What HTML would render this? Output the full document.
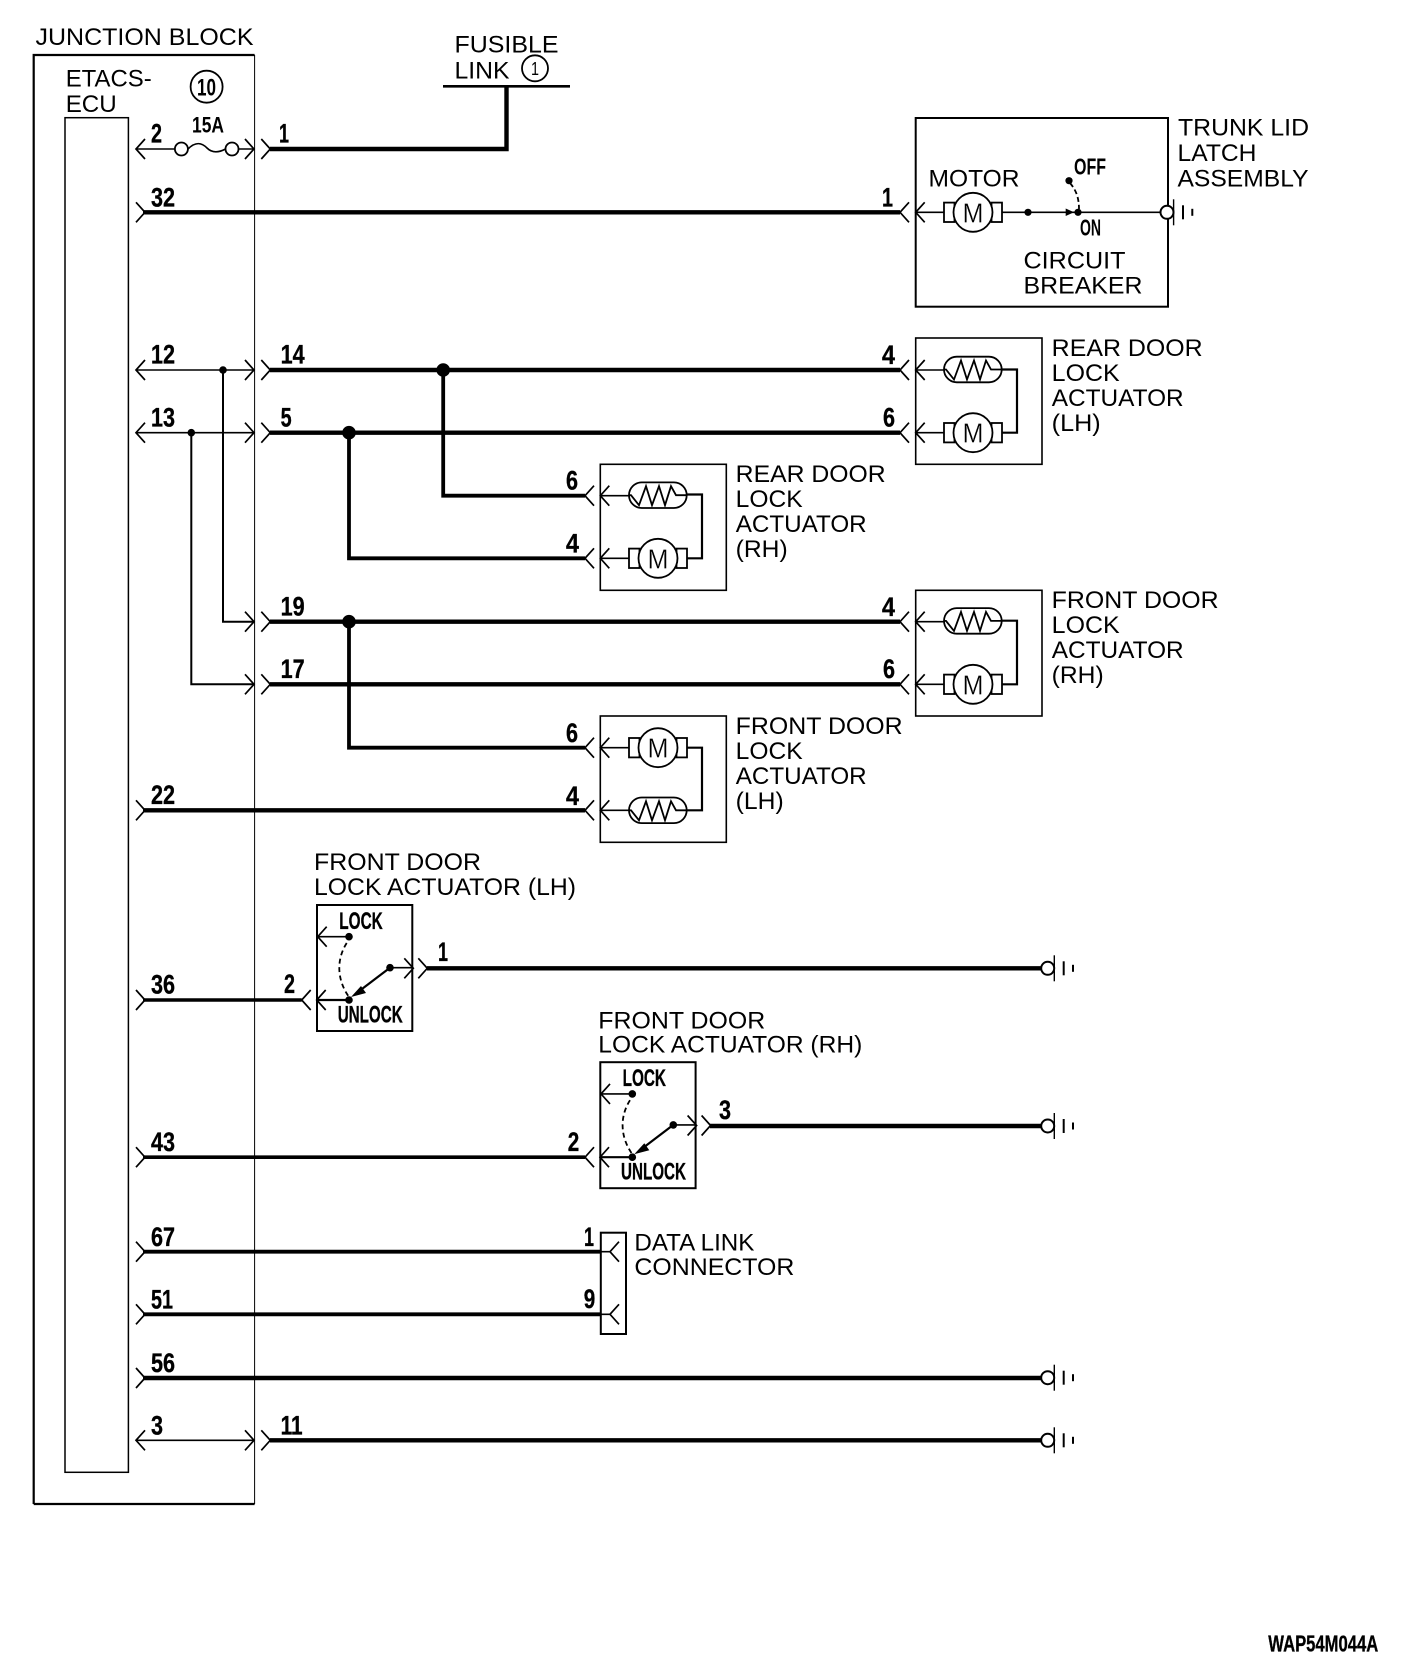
<!DOCTYPE html>
<html><head><meta charset="utf-8"><style>
html,body{margin:0;padding:0;background:#fff}
svg{display:block}
text{fill:#000;font-family:"Liberation Sans",sans-serif}
.t{font-size:24.5px}
.n{font-size:27px;font-weight:bold;stroke:#000;stroke-width:.35}
.b{font-size:24px;font-weight:bold;stroke:#000;stroke-width:.35}
.w{fill:none;stroke:#000;stroke-width:4.4}
.h{fill:none;stroke:#000;stroke-width:1.6}
.m{fill:none;stroke:#000;stroke-width:2.2}
</style></head><body>
<svg width="1408" height="1666" viewBox="0 0 1408 1666" xmlns="http://www.w3.org/2000/svg">
<defs>
<path id="al" d="M9,-10 L0,0 L9,10" fill="none" stroke="#000" stroke-width="1.7"/>
<path id="ar" d="M-9,-10 L0,0 L-9,10" fill="none" stroke="#000" stroke-width="1.7"/>
<g id="gnd"><circle r="6.5" fill="#fff" stroke="#000" stroke-width="2"/>
<path d="M6.6,-13V13" stroke="#000" stroke-width="1.4"/><path d="M16,-7V7" stroke="#000" stroke-width="2"/><path d="M25.3,-3.5V3.5" stroke="#000" stroke-width="2"/></g>
<g id="mot"><rect x="-29" y="-9.7" width="10.5" height="19.4" fill="#fff" stroke="#000" stroke-width="1.8"/><rect x="18.5" y="-9.7" width="10.5" height="19.4" fill="#fff" stroke="#000" stroke-width="1.8"/><circle r="19.5" fill="#fff" stroke="#000" stroke-width="1.8"/>
<text x="-10.5" y="10" font-size="28" textLength="21" lengthAdjust="spacingAndGlyphs" stroke="#fff" stroke-width=".3">M</text></g>
<g id="hea"><rect x="0" y="-12.8" width="57.7" height="25.6" rx="12.8" fill="#fff" stroke="#000" stroke-width="1.8"/>
<path d="M0,0H2L10,10L17,-9L23,10L30,-9L36,10L42,-9L47,0H57.7" fill="none" stroke="#000" stroke-width="1.8"/></g>
</defs>
<rect width="1408" height="1666" fill="#fff"/>

<!-- junction block -->
<path d="M33.7,1504V55H254.6" class="m"/><path d="M33.7,1504H254.6" class="m"/>
<path d="M254.6,55V1504" fill="none" stroke="#000" stroke-width="1"/>
<rect x="65" y="117.7" width="63.4" height="1354.6" fill="none" stroke="#000" stroke-width="1.5"/>
<text class="t" x="35.5" y="45" textLength="218" lengthAdjust="spacingAndGlyphs">JUNCTION BLOCK</text>
<text class="t" x="65.7" y="86.7" textLength="86" lengthAdjust="spacingAndGlyphs">ETACS-</text>
<text class="t" x="65.7" y="112" textLength="51" lengthAdjust="spacingAndGlyphs">ECU</text>
<circle cx="206.6" cy="86.7" r="16" fill="none" stroke="#000" stroke-width="1.8"/>
<text x="197" y="95.5" style="font-size:24px;font-weight:bold" textLength="19" lengthAdjust="spacingAndGlyphs">10</text>

<!-- fusible link -->
<text class="t" x="454.5" y="52.3" textLength="104" lengthAdjust="spacingAndGlyphs">FUSIBLE</text>
<text class="t" x="454.5" y="78.3" textLength="55" lengthAdjust="spacingAndGlyphs">LINK</text>
<circle cx="535" cy="68.3" r="13" fill="none" stroke="#000" stroke-width="1.8"/>
<text x="531" y="75" style="font-size:18px" textLength="8" lengthAdjust="spacingAndGlyphs">1</text>
<path d="M443,86.3H570" stroke="#000" stroke-width="2.6"/>
<path d="M506.5,86V149H270" class="w"/>

<!-- row 2/1 -->
<path d="M136,149H174.9M188,149C196,141 202,143 207,148C212,153 218,153 225.5,149M238.5,149H254" class="h"/>
<circle cx="181.4" cy="149" r="6.5" fill="#fff" stroke="#000" stroke-width="1.8"/>
<circle cx="232" cy="149" r="6.5" fill="#fff" stroke="#000" stroke-width="1.8"/>
<use href="#al" x="136" y="149"/><use href="#ar" x="254" y="149"/><use href="#ar" x="270.3" y="149"/>
<text class="n" x="151" y="142.7" textLength="11" lengthAdjust="spacingAndGlyphs">2</text>
<text style="font-size:22px;font-weight:bold" x="192" y="132.7" textLength="32" lengthAdjust="spacingAndGlyphs">15A</text>
<text class="n" x="279" y="142.7" textLength="10" lengthAdjust="spacingAndGlyphs">1</text>

<!-- row 32/1 trunk -->
<path d="M143,212.3H900" class="w"/><use href="#ar" x="145" y="212.3"/><use href="#al" x="900" y="212.3"/><use href="#al" x="915.7" y="212.3"/>
<text class="n" x="151" y="206.7" textLength="24" lengthAdjust="spacingAndGlyphs">32</text>
<text class="n" x="882" y="206.7" textLength="11" lengthAdjust="spacingAndGlyphs">1</text>
<rect x="915.7" y="118" width="252.3" height="188.7" fill="none" stroke="#000" stroke-width="2"/>
<path d="M915.7,212.3H1162" class="h"/>
<use href="#mot" x="973" y="212.3"/>
<circle cx="1028" cy="212.3" r="3.6"/>
<circle cx="1078" cy="212.3" r="3.6"/><path d="M1065.7,208.5V216L1074,212.3Z"/>
<circle cx="1069" cy="180.7" r="3.6"/>
<path d="M1070,183C1075,189 1079,196 1079,209" fill="none" stroke="#000" stroke-width="1.8" stroke-dasharray="5 3"/>
<use href="#gnd" x="1167" y="212.3"/>
<text class="t" x="928.5" y="186.7" textLength="91" lengthAdjust="spacingAndGlyphs">MOTOR</text>
<text style="font-size:23px;font-weight:bold" x="1074" y="174.3" textLength="32" lengthAdjust="spacingAndGlyphs">OFF</text>
<text style="font-size:23px;font-weight:bold" x="1080" y="235.7" textLength="21" lengthAdjust="spacingAndGlyphs">ON</text>
<text class="t" x="1023.5" y="268.3" textLength="102" lengthAdjust="spacingAndGlyphs">CIRCUIT</text>
<text class="t" x="1023.5" y="293.3" textLength="119" lengthAdjust="spacingAndGlyphs">BREAKER</text>
<text class="t" x="1178" y="135.7" textLength="131" lengthAdjust="spacingAndGlyphs">TRUNK LID</text>
<text class="t" x="1177.5" y="161" textLength="79" lengthAdjust="spacingAndGlyphs">LATCH</text>
<text class="t" x="1177.5" y="186.7" textLength="131" lengthAdjust="spacingAndGlyphs">ASSEMBLY</text>

<!-- inside block door rows -->
<path d="M136,370H254M136,432.7H254" class="h"/>
<use href="#al" x="136" y="370"/><use href="#ar" x="254" y="370"/><use href="#ar" x="270.3" y="370"/>
<use href="#al" x="136" y="432.7"/><use href="#ar" x="254" y="432.7"/><use href="#ar" x="270.3" y="432.7"/>
<circle cx="223" cy="370" r="3.8"/><circle cx="191.3" cy="432.7" r="3.8"/>
<path d="M223,370V621.7H254" class="h" style="stroke-width:2"/>
<path d="M191.3,432.7V684.3H254" class="h" style="stroke-width:2"/>
<use href="#ar" x="254" y="621.7"/><use href="#ar" x="270.3" y="621.7"/>
<use href="#ar" x="254" y="684.3"/><use href="#ar" x="270.3" y="684.3"/>
<text class="n" x="151" y="363.5" textLength="24" lengthAdjust="spacingAndGlyphs">12</text>
<text class="n" x="151" y="426.7" textLength="24" lengthAdjust="spacingAndGlyphs">13</text>
<text class="n" x="280.6" y="363.5" textLength="24" lengthAdjust="spacingAndGlyphs">14</text>
<text class="n" x="280.6" y="426.7" textLength="11" lengthAdjust="spacingAndGlyphs">5</text>
<text class="n" x="280.6" y="615.5" textLength="24" lengthAdjust="spacingAndGlyphs">19</text>
<text class="n" x="280.6" y="678" textLength="24" lengthAdjust="spacingAndGlyphs">17</text>

<!-- main thick wires -->
<path d="M270,370H900M270,432.7H900M270,621.7H900M270,684.3H900" class="w"/>
<path d="M443.2,370V495.7H585M349,432.7V558.3H585M349,621.7V747.7H585" class="w" style="stroke-width:3.8"/>
<circle cx="443.2" cy="370" r="6.8"/><circle cx="349" cy="432.7" r="6.8"/><circle cx="349" cy="621.7" r="6.8"/>
<path d="M143,810.3H585" class="w"/><use href="#ar" x="145" y="810.3"/>
<text class="n" x="151" y="804" textLength="24" lengthAdjust="spacingAndGlyphs">22</text>

<!-- rear door LH -->
<rect x="915.7" y="338" width="126.3" height="126.3" fill="none" stroke="#000" stroke-width="1.6"/>
<use href="#al" x="900" y="370"/><use href="#al" x="915.7" y="370"/><use href="#al" x="900" y="432.7"/><use href="#al" x="915.7" y="432.7"/>
<path d="M915.7,370H944M915.7,432.7H944" class="h"/>
<path d="M1001.7,369.5H1017V432.7H1002" class="m"/>
<use href="#hea" x="944" y="369.5"/><use href="#mot" x="973" y="432.7"/>
<text class="n" x="882" y="364" textLength="13" lengthAdjust="spacingAndGlyphs">4</text>
<text class="n" x="883" y="426.5" textLength="12" lengthAdjust="spacingAndGlyphs">6</text>
<text class="t" x="1051.7" y="356" textLength="151" lengthAdjust="spacingAndGlyphs">REAR DOOR</text>
<text class="t" x="1051.7" y="381" textLength="68" lengthAdjust="spacingAndGlyphs">LOCK</text>
<text class="t" x="1051.7" y="406" textLength="132" lengthAdjust="spacingAndGlyphs">ACTUATOR</text>
<text class="t" x="1051.7" y="431" textLength="49" lengthAdjust="spacingAndGlyphs">(LH)</text>

<!-- rear door RH -->
<rect x="600.3" y="464.3" width="126" height="126" fill="none" stroke="#000" stroke-width="1.6"/>
<use href="#al" x="585" y="495.7"/><use href="#al" x="600.3" y="495.7"/><use href="#al" x="585" y="558.3"/><use href="#al" x="600.3" y="558.3"/>
<path d="M600.3,495.7H629M600.3,558.3H629" class="h"/>
<path d="M686.7,494.5H702V558.3H687" class="m"/>
<use href="#hea" x="629" y="495.2"/><use href="#mot" x="658" y="558.3"/>
<text class="n" x="566" y="489.5" textLength="12" lengthAdjust="spacingAndGlyphs">6</text>
<text class="n" x="566" y="552.5" textLength="13" lengthAdjust="spacingAndGlyphs">4</text>
<text class="t" x="735.7" y="482" textLength="150" lengthAdjust="spacingAndGlyphs">REAR DOOR</text>
<text class="t" x="735.7" y="507" textLength="67" lengthAdjust="spacingAndGlyphs">LOCK</text>
<text class="t" x="735.7" y="532" textLength="131" lengthAdjust="spacingAndGlyphs">ACTUATOR</text>
<text class="t" x="735.7" y="557" textLength="52" lengthAdjust="spacingAndGlyphs">(RH)</text>

<!-- front door RH -->
<rect x="915.7" y="590.3" width="126.3" height="125.7" fill="none" stroke="#000" stroke-width="1.6"/>
<use href="#al" x="900" y="621.7"/><use href="#al" x="915.7" y="621.7"/><use href="#al" x="900" y="684.3"/><use href="#al" x="915.7" y="684.3"/>
<path d="M915.7,621.7H944M915.7,684.3H944" class="h"/>
<path d="M1001.7,620.7H1017V684.3H1002" class="m"/>
<use href="#hea" x="944" y="620.9"/><use href="#mot" x="973" y="684.3"/>
<text class="n" x="882" y="616" textLength="13" lengthAdjust="spacingAndGlyphs">4</text>
<text class="n" x="883" y="678" textLength="12" lengthAdjust="spacingAndGlyphs">6</text>
<text class="t" x="1051.7" y="608" textLength="167" lengthAdjust="spacingAndGlyphs">FRONT DOOR</text>
<text class="t" x="1051.7" y="633" textLength="68" lengthAdjust="spacingAndGlyphs">LOCK</text>
<text class="t" x="1051.7" y="658" textLength="132" lengthAdjust="spacingAndGlyphs">ACTUATOR</text>
<text class="t" x="1051.7" y="683" textLength="52" lengthAdjust="spacingAndGlyphs">(RH)</text>

<!-- front door LH -->
<rect x="600.3" y="716" width="126" height="126.3" fill="none" stroke="#000" stroke-width="1.6"/>
<use href="#al" x="585" y="747.7"/><use href="#al" x="600.3" y="747.7"/><use href="#al" x="585" y="810.3"/><use href="#al" x="600.3" y="810.3"/>
<path d="M600.3,747.7H629M600.3,810.3H629" class="h"/>
<path d="M686.7,747.7H702V810.3H687" class="m"/>
<use href="#mot" x="658" y="747.7"/><use href="#hea" x="629" y="810.3"/>
<text class="n" x="566" y="742" textLength="12" lengthAdjust="spacingAndGlyphs">6</text>
<text class="n" x="566" y="805" textLength="13" lengthAdjust="spacingAndGlyphs">4</text>
<text class="t" x="735.7" y="734" textLength="167" lengthAdjust="spacingAndGlyphs">FRONT DOOR</text>
<text class="t" x="735.7" y="759" textLength="67" lengthAdjust="spacingAndGlyphs">LOCK</text>
<text class="t" x="735.7" y="784" textLength="131" lengthAdjust="spacingAndGlyphs">ACTUATOR</text>
<text class="t" x="735.7" y="809" textLength="48" lengthAdjust="spacingAndGlyphs">(LH)</text>

<!-- switch LH -->
<text class="t" x="314" y="870" textLength="167" lengthAdjust="spacingAndGlyphs">FRONT DOOR</text>
<text class="t" x="314" y="895" textLength="262" lengthAdjust="spacingAndGlyphs">LOCK ACTUATOR (LH)</text>
<g id="sw">
<rect x="317" y="905" width="95.3" height="126" fill="none" stroke="#000" stroke-width="2"/>
<text class="b" x="339.3" y="929" textLength="43.4" lengthAdjust="spacingAndGlyphs">LOCK</text>
<text class="b" x="337.7" y="1022.3" textLength="65" lengthAdjust="spacingAndGlyphs">UNLOCK</text>
<circle cx="349" cy="936.7" r="3.8"/><path d="M317.7,936.7H349" class="h"/><use href="#al" x="317.7" y="936.7"/>
<path d="M346.7,943C336,960 337,980 349,997" fill="none" stroke="#000" stroke-width="1.8" stroke-dasharray="5 3.5"/>
<circle cx="390" cy="967.7" r="3.8"/><path d="M390,967.7H413" class="h"/><use href="#ar" x="413.3" y="968.3"/><use href="#ar" x="427.3" y="968.3"/>
<path d="M390,967.7L358,992" class="m"/><path d="M351,997L361,986L366,993Z"/>
<circle cx="349" cy="1000" r="3.8"/><path d="M349,1000H317" class="m"/><use href="#al" x="316.7" y="1000"/><use href="#al" x="301.7" y="1000"/>
</g>
<path d="M427,968.3H1041" class="w"/><use href="#gnd" x="1047.7" y="968.3"/>
<path d="M143,1000H301.7" class="w" style="stroke-width:3.6"/><use href="#ar" x="145" y="1000"/>
<text class="n" x="151" y="993.5" textLength="24" lengthAdjust="spacingAndGlyphs">36</text>
<text class="n" x="284" y="993" textLength="11" lengthAdjust="spacingAndGlyphs">2</text>
<text class="n" x="438" y="961" textLength="10" lengthAdjust="spacingAndGlyphs">1</text>

<!-- switch RH -->
<text class="t" x="598.3" y="1028.3" textLength="167" lengthAdjust="spacingAndGlyphs">FRONT DOOR</text>
<text class="t" x="598.3" y="1052.7" textLength="264" lengthAdjust="spacingAndGlyphs">LOCK ACTUATOR (RH)</text>
<use href="#sw" x="283.3" y="157.2"/>
<path d="M710,1126H1041" class="w"/><use href="#gnd" x="1047.7" y="1126"/>
<path d="M143,1157.2H585" class="w" style="stroke-width:3.6"/><use href="#ar" x="145" y="1157.2"/>
<text class="n" x="151" y="1151" textLength="24" lengthAdjust="spacingAndGlyphs">43</text>
<text class="n" x="567.7" y="1151" textLength="11.5" lengthAdjust="spacingAndGlyphs">2</text>
<text class="n" x="719" y="1119" textLength="12" lengthAdjust="spacingAndGlyphs">3</text>

<!-- data link -->
<rect x="600.8" y="1232.7" width="25.2" height="101.3" fill="none" stroke="#000" stroke-width="2"/>
<path d="M143,1251.7H601M143,1314.3H601" class="w" style="stroke-width:3.8"/>
<path d="M601,1251.7H610M601,1314.3H610" class="h"/>
<use href="#al" x="610" y="1251.7"/><use href="#al" x="610" y="1314.3"/>
<use href="#ar" x="145" y="1251.7"/><use href="#ar" x="145" y="1314.3"/>
<text class="n" x="151" y="1246" textLength="24" lengthAdjust="spacingAndGlyphs">67</text>
<text class="n" x="151" y="1308.5" textLength="22" lengthAdjust="spacingAndGlyphs">51</text>
<text class="n" x="584" y="1246" textLength="10" lengthAdjust="spacingAndGlyphs">1</text>
<text class="n" x="583.7" y="1308" textLength="11.5" lengthAdjust="spacingAndGlyphs">9</text>
<text class="t" x="634.4" y="1250.7" textLength="120" lengthAdjust="spacingAndGlyphs">DATA LINK</text>
<text class="t" x="634.4" y="1275" textLength="160" lengthAdjust="spacingAndGlyphs">CONNECTOR</text>

<!-- 56, 3/11 -->
<path d="M143,1378H1041" class="w"/><use href="#ar" x="145" y="1378"/><use href="#gnd" x="1047.7" y="1377.7"/>
<text class="n" x="151" y="1372" textLength="24" lengthAdjust="spacingAndGlyphs">56</text>
<path d="M136,1440.3H254" class="h"/><use href="#al" x="136" y="1440.3"/><use href="#ar" x="254" y="1440.3"/><use href="#ar" x="270.3" y="1440.3"/>
<path d="M270,1440.3H1041" class="w"/><use href="#gnd" x="1047.7" y="1440.3"/>
<text class="n" x="151" y="1434.5" textLength="12" lengthAdjust="spacingAndGlyphs">3</text>
<text class="n" x="280.6" y="1434.5" textLength="22" lengthAdjust="spacingAndGlyphs">11</text>

<text style="font-size:23px;font-weight:bold;stroke:#000;stroke-width:.35" x="1268.3" y="1651.7" textLength="110" lengthAdjust="spacingAndGlyphs">WAP54M044A</text>
</svg>
</body></html>
